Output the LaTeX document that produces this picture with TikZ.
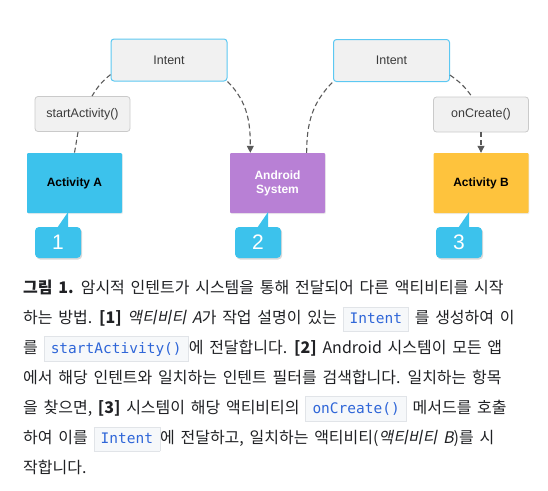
\documentclass[tikz,border=0pt]{standalone}
\usepackage{fontspec}
\setmainfont{Noto Sans CJK KR}[WordSpace=1.6]
\setmonofont{DejaVu Sans Mono}
\newfontfamily\diagfont{Liberation Sans}
\newfontfamily\capitfont{Noto Sans CJK KR}[FakeSlant=0.2, WordSpace=1.6]
\usepackage{tikz}
\usetikzlibrary{arrows.meta, shadows, calc}

\definecolor{boxgray}{HTML}{F1F1F1}
\definecolor{intentedge}{HTML}{5CC8F2}
\definecolor{calledge}{HTML}{CACACA}
\definecolor{labelgray}{HTML}{3C3C3C}
\definecolor{actblue}{HTML}{3CC2EC}
\definecolor{syspurple}{HTML}{B880D5}
\definecolor{actyellow}{HTML}{FEC33D}
\definecolor{conngray}{HTML}{5A5A5A}
\definecolor{captext}{HTML}{202124}
\definecolor{codeblue}{HTML}{2F66D8}
\definecolor{codebg}{HTML}{F6F8FA}
\definecolor{codeline}{HTML}{E1E4E8}

\newcommand{\codebit}[1]{{\setlength{\fboxsep}{5pt}\setlength{\fboxrule}{0.6pt}%
  \fcolorbox{codeline}{codebg}{\rule[-3pt]{0pt}{11pt}\hspace{1.5pt}\ttfamily\fontsize{14.5}{14.5}\selectfont\color{codeblue}#1\hspace{1.5pt}}}}

\begin{document}
\begin{tikzpicture}[
    x=1pt, y=-1pt,
    intentbox/.style={draw=intentedge, line width=1pt, fill=boxgray, rounded corners=3pt, minimum width=116pt, minimum height=42pt, text=labelgray, font=\diagfont\fontsize{12.5}{14}\selectfont},
    callbox/.style={draw=calledge, line width=0.8pt, fill=boxgray, rounded corners=3pt, minimum width=95pt, minimum height=35pt, text=labelgray, font=\diagfont\fontsize{12.5}{14}\selectfont},
    actbox/.style={rectangle, rounded corners=1pt, minimum width=95pt, minimum height=60pt, text centered, font=\diagfont\bfseries\fontsize{12}{14}\selectfont, drop shadow={opacity=0.15, shadow xshift=0.8pt, shadow yshift=-1pt}},
    badge/.style={fill=actblue, rounded corners=4pt, minimum width=46pt, minimum height=31pt, text=white, font=\diagfont\fontsize{21}{21}\selectfont, drop shadow={opacity=0.3, shadow xshift=1.2pt, shadow yshift=-1.5pt}},
    conn/.style={draw=conngray, line width=1.1pt, dash pattern=on 5pt off 3pt},
    arrow/.style={conn, -{Triangle[width=7pt,length=7pt]}},
    capline/.style={anchor=base west, inner sep=0pt, text=captext, font=\fontsize{16}{18}\selectfont}
]
\useasboundingbox (0,0) rectangle (548,490);

% diagram
\node (intentA) [intentbox] at (169,60) {Intent};
\node (intentB) [intentbox] at (391.5,60.5) {Intent};
\node (start) [callbox] at (82.5,114) {startActivity()};
\node (create) [callbox] at (481,114.5) {onCreate()};
\node (actA) [actbox, fill=actblue] at (74.5,183) {Activity A};
\node (sys) [actbox, fill=syspurple, text=white, align=center] at (277.5,183) {Android\\System};
\node (actB) [actbox, fill=actyellow] at (481,183) {Activity B};

\draw [conn] (intentA.194) to[bend right=10] (start.62);
\draw [conn] (start.256) -- (actA.north);
\draw [arrow] (intentA.south east) to[out=-45,in=90] (sys.132);
\draw [conn] (sys.46) to[out=90,in=225] (intentB.200);
\draw [conn] (intentB.-14) to[bend left=10] (create.117);
\draw [arrow] (create) -- (actB);

% badges
\node (num1) [badge] at (58,242.5) {1};
\node (num2) [badge] at (258,242.5) {2};
\node (num3) [badge] at (459,242.5) {3};
\fill [actblue] ($(num1.north east)+(-24,1)$) -- ($(num1.north east)+(-13,-15)$) -- ($(num1.north east)+(-13,1)$) -- cycle;
\fill [actblue] ($(num2.north east)+(-24,1)$) -- ($(num2.north east)+(-13,-15)$) -- ($(num2.north east)+(-13,1)$) -- cycle;
\fill [actblue] ($(num3.north east)+(-24,1)$) -- ($(num3.north east)+(-13,-15)$) -- ($(num3.north east)+(-13,1)$) -- cycle;

% caption
\node (cap1) [capline] at (23,293) {{\bfseries 그림 1.} 암시적 인텐트가 시스템을 통해 전달되어 다른 액티비티를 시작};
\node (cap2) [capline] at (23,323) {하는 방법. {\bfseries [1]} {\capitfont 액티비티 A}가 작업 설명이 있는 \codebit{Intent} 를 생성하여 이};
\node (cap3) [capline] at (23,353) {를 \codebit{startActivity()}에 전달합니다. {\bfseries [2]} Android 시스템이 모든 앱};
\node (cap4) [capline] at (23,383) {에서 해당 인텐트와 일치하는 인텐트 필터를 검색합니다. 일치하는 항목};
\node (cap5) [capline] at (23,413) {을 찾으면, {\bfseries [3]} 시스템이 해당 액티비티의 \codebit{onCreate()} 메서드를 호출};
\node (cap6) [capline] at (23,443) {하여 이를 \codebit{Intent}에 전달하고, 일치하는 액티비티({\capitfont 액티비티 B})를 시};
\node (cap7) [capline] at (23,473) {작합니다.};
\end{tikzpicture}
\end{document}
